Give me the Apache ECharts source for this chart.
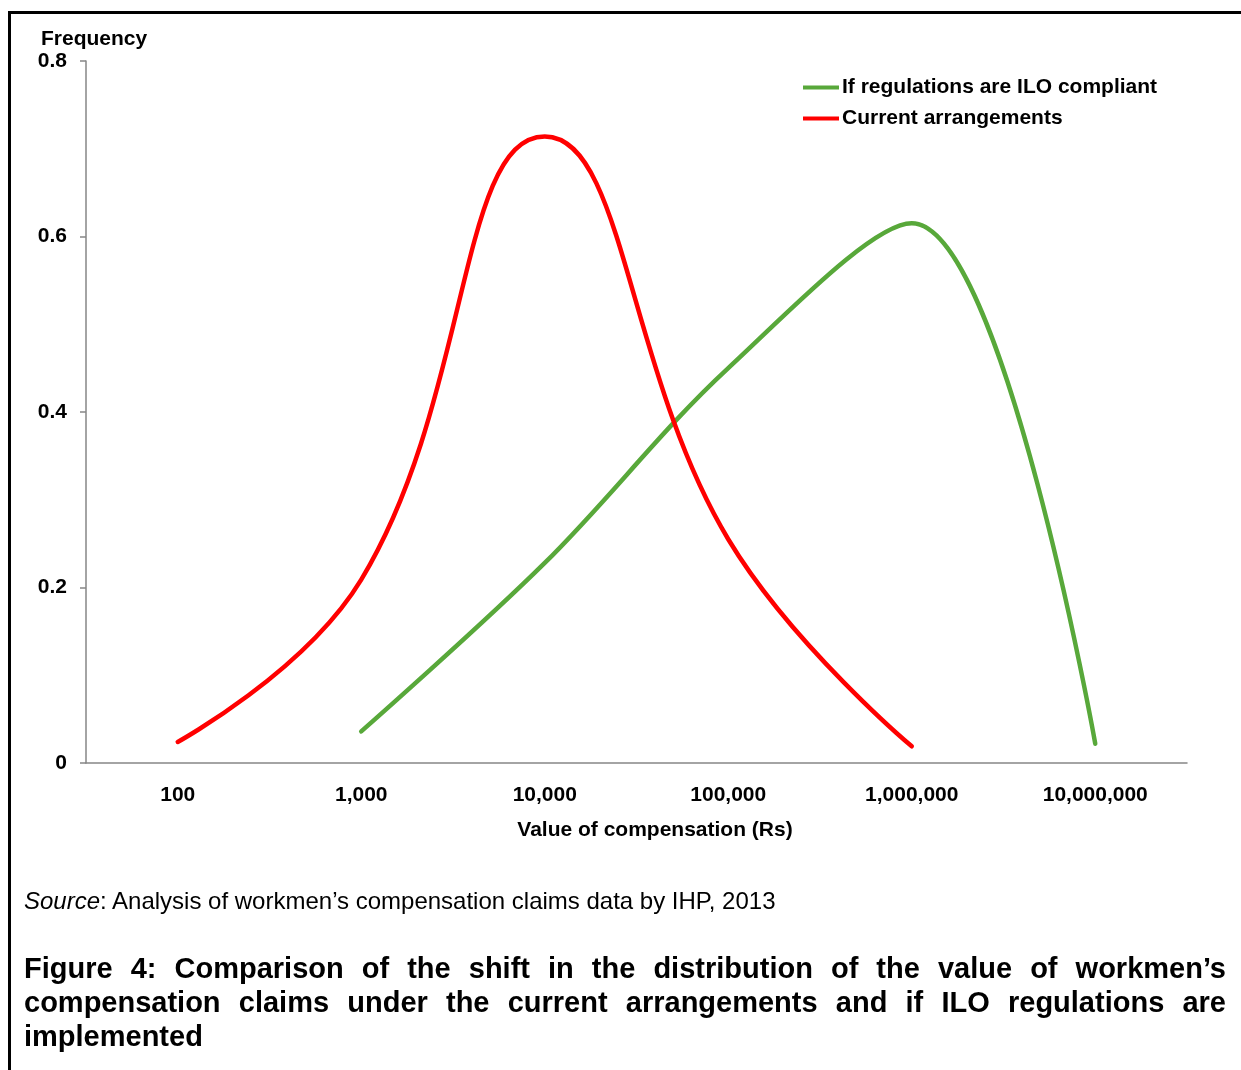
<!DOCTYPE html>
<html>
<head>
<meta charset="utf-8">
<script src="https://cdn.jsdelivr.net/npm/echarts@6/dist/echarts.min.js"></script>
<style>
  body { margin: 0; background: #fff; }
  #wrap { position: relative; width: 1241px; height: 1070px; overflow: hidden; font-family: "Liberation Sans", Arial, sans-serif; }
  #frame { position: absolute; left: 8px; top: 11px; width: 1300px; height: 1100px; border-left: 3px solid #000; border-top: 3px solid #000; }
  #main { position: absolute; left: 0; top: 0; width: 1241px; height: 1070px; }
  #source { position: absolute; left: 24px; top: 887px; font-size: 24px; line-height: 28px; color: #000; white-space: nowrap; }
  #caption { position: absolute; left: 24px; top: 951px; width: 1202px; font-size: 29px; line-height: 34px; font-weight: bold; text-align: justify; color: #000; }
</style>
</head>
<body>
<div id="wrap">
  <div id="frame"></div>
  <div id="main"></div>
  <div id="source"><i>Source</i>: Analysis of workmen’s compensation claims data by IHP, 2013</div>
  <div id="caption">Figure 4: Comparison of the shift in the distribution of the value of workmen’s compensation claims under the current arrangements and if ILO regulations are implemented</div>
</div>
<script>
const categories = ['100', '1,000', '10,000', '100,000', '1,000,000', '10,000,000']
const iloCompliant = ['-', 0.036, 0.228, 0.45, 0.615, 0.022]
const currentArrangements = [0.024, 0.209, 0.714, 0.255, 0.019, '-']

const font = '"Liberation Sans", Arial, sans-serif'
const axisGray = '#868686'

const myChart = echarts.init(document.getElementById('main'))
const option = {
  animation: false,
  grid: { left: 86, right: 54, top: 61, bottom: 307, containLabel: false },
  legend: {
    orient: 'vertical',
    left: 803,
    top: 77,
    padding: 0,
    itemGap: 10,
    itemWidth: 36,
    itemHeight: 4,
    icon: 'rect',
    textStyle: { fontFamily: font, fontSize: 21, fontWeight: 'bold', color: '#000', padding: [0, 0, 0, -2] },
    data: ['If regulations are ILO compliant', 'Current arrangements']
  },
  graphic: [
    {
      type: 'text',
      left: 41,
      top: 29,
      style: { text: 'Frequency', font: 'bold 21px ' + font, fill: '#000' }
    },
    {
      type: 'text',
      x: 655,
      y: 830,
      style: {
        text: 'Value of compensation (Rs)',
        font: 'bold 21px ' + font,
        fill: '#000',
        align: 'center',
        verticalAlign: 'middle'
      }
    }
  ],
  xAxis: {
    type: 'category',
    data: categories,
    boundaryGap: true,
    axisLine: { lineStyle: { color: axisGray, width: 1.5 } },
    axisTick: { length: 6, lineStyle: { color: axisGray, width: 1.5 } },
    axisLabel: { margin: 22, fontFamily: font, fontSize: 21, fontWeight: 'bold', color: '#000', interval: 0 }
  },
  yAxis: {
    type: 'value',
    min: 0,
    max: 0.8,
    interval: 0.2,
    splitLine: { show: false },
    axisLine: { show: true, lineStyle: { color: axisGray, width: 1.5 } },
    axisTick: { show: true, length: 6, lineStyle: { color: axisGray, width: 1.5 } },
    axisLabel: { margin: 19, fontFamily: font, fontSize: 21, fontWeight: 'bold', color: '#000' }
  },
  series: [
    {
      name: 'If regulations are ILO compliant',
      type: 'line',
      data: iloCompliant,
      smooth: 0.35,
      showSymbol: false,
      color: '#58A83A',
      lineStyle: { width: 4.5, cap: 'round' }
    },
    {
      name: 'Current arrangements',
      type: 'line',
      data: currentArrangements,
      smooth: 0.45,
      showSymbol: false,
      color: '#FF0000',
      lineStyle: { width: 4.5, cap: 'round' }
    }
  ]
}
option && myChart.setOption(option)
</script>
</body>
</html>
